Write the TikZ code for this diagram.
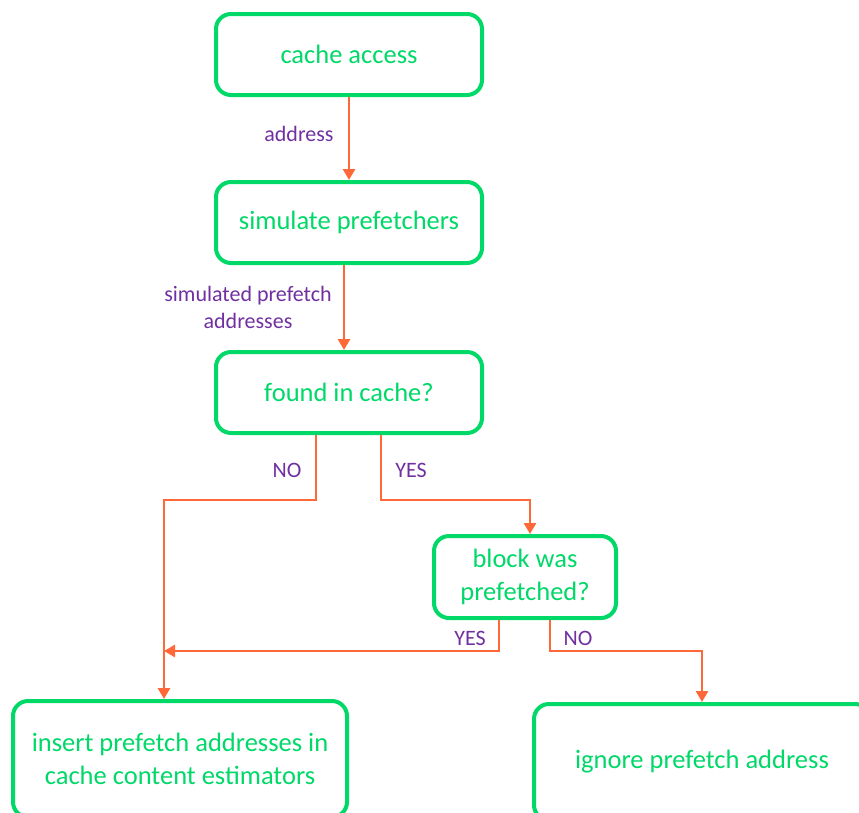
\documentclass[tikz,border=0pt]{standalone}
\usepackage{fontspec}
\setmainfont{Carlito}
\usetikzlibrary{arrows.meta,calc}
\definecolor{boxgreen}{RGB}{0,216,104}
\definecolor{arrorange}{RGB}{255,104,56}
\definecolor{lblpurple}{RGB}{112,48,160}
\begin{document}
\begin{tikzpicture}[x=1pt,y=-1pt,
 box/.style={draw=boxgreen, line width=4pt, rounded corners=15pt, text=boxgreen,
   font=\fontsize{26.5}{32.5}\selectfont, align=center, inner sep=0pt},
 arr/.style={draw=arrorange, line width=2.7pt, -{Triangle[length=11pt,width=12pt]}},
 lbl/.style={text=lblpurple, font=\fontsize{22}{27}\selectfont, align=center}]
\useasboundingbox (0,0) rectangle (859,812);
\clip (0,0) rectangle (859,812);
\node[box, minimum width=266pt, minimum height=81pt] (b1) at (349,54.5) {cache access};
\node[box, minimum width=266pt, minimum height=81pt] (b2) at (349,222.5) {simulate prefetchers};
\node[box, minimum width=266pt, minimum height=81pt] (b3) at (349,392.5) {found in cache?};
\node[box, minimum width=182pt, minimum height=82pt] (b4) at (525,577) {block was\\prefetched?};
\node[box, minimum width=334pt, minimum height=116pt] (b5) at (180,759) {insert prefetch addresses in\\cache content estimators};
\node[box, minimum width=336pt, minimum height=116pt] (b6) at (702,762) {ignore prefetch address};

\node[lbl] (l1) at (299,134) {address};
\node[lbl] (l2) at (248,307) {simulated prefetch\\addresses};
\node[lbl] (l3) at (287,470) {NO};
\node[lbl] (l4) at (411,470) {YES};
\node[lbl] (l5) at (470,638) {YES};
\node[lbl] (l6) at (578,638) {NO};

\coordinate (c2) at (344,300);
\coordinate (noBend) at (316,500);
\coordinate (yesBend) at (381,500);
\coordinate (leftX) at (164,0);
\coordinate (b4in) at (530,0);
\coordinate (b4yes) at (499,651);
\coordinate (b4no) at (550,651);

\draw[arr] (b1) -- (b2);
\draw[arr] (b2.south -| c2) -- (b3.north -| c2);
\draw[arr] (b3.south -| noBend) -- (noBend) -- (noBend -| leftX) -- (b5.north -| leftX);
\draw[arr] (b3.south -| yesBend) -- (yesBend) -| (b4.north -| b4in);
\draw[arr] (b4.south -| b4yes) -- (b4yes) -- (b4yes -| leftX);
\draw[arr] (b4.south -| b4no) -- (b4no) -| (b6.north);
\end{tikzpicture}
\end{document}
